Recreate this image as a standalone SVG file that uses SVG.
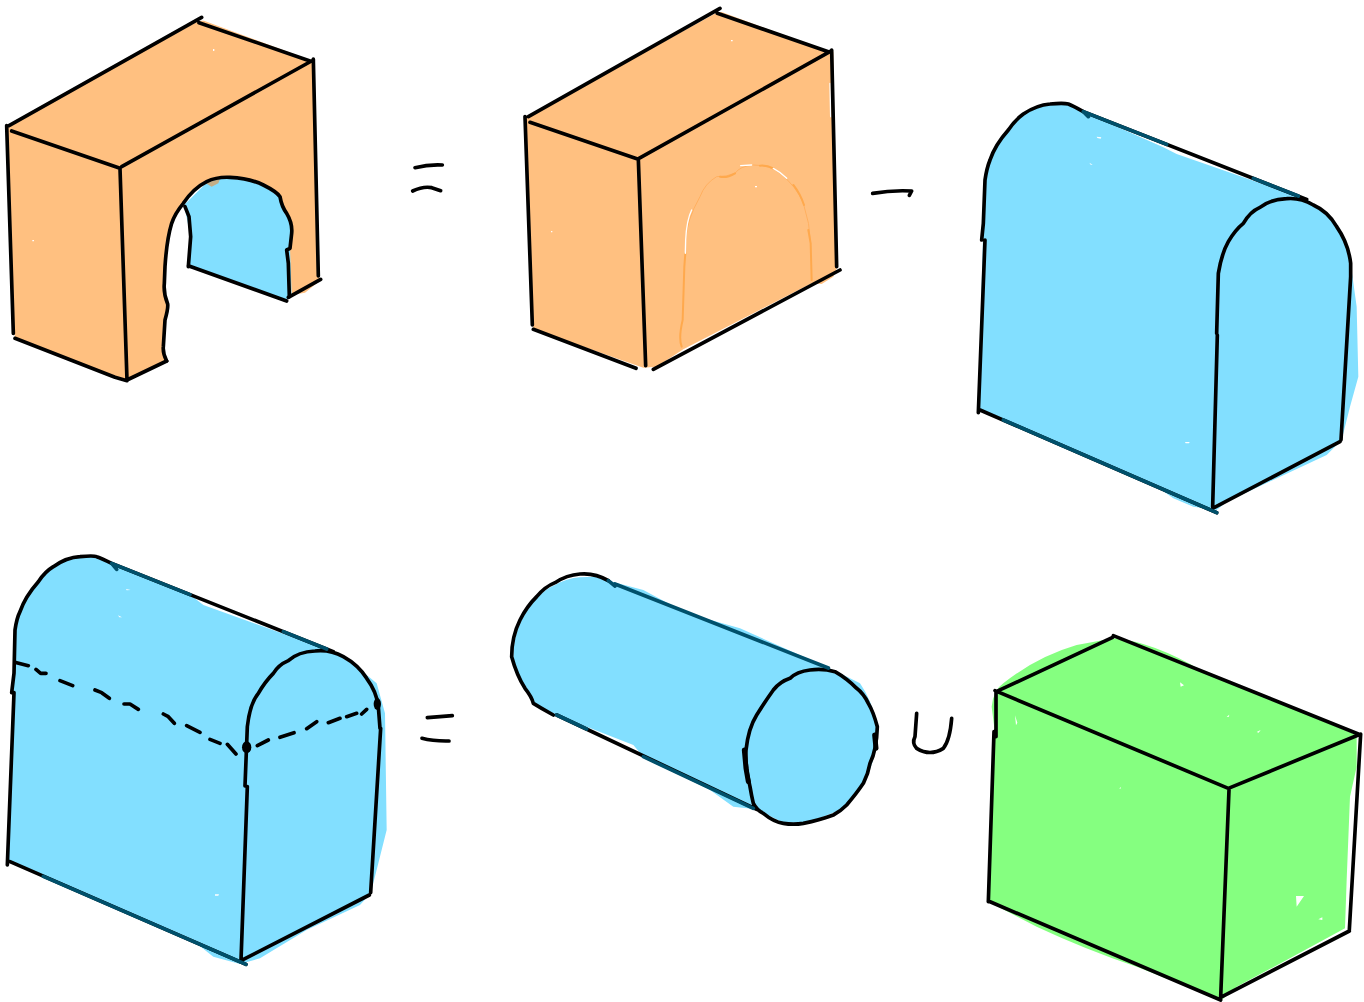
<svg xmlns="http://www.w3.org/2000/svg" width="1364" height="1002" viewBox="0 0 1364 1002">
<style>
.o{fill:#FFC080}.b{fill:#82DFFF}.g{fill:#85FF80}
.s{fill:none;stroke:#000;stroke-width:11;stroke-linecap:round;stroke-linejoin:round}
.t{fill:none;stroke:#00506B;stroke-width:11;stroke-linecap:round;stroke-linejoin:round}
.a{fill:none;stroke:#FFA94D;stroke-width:6;stroke-linecap:round;stroke-linejoin:round}
.c{fill:none;stroke:#FFB060;stroke-width:3;stroke-linecap:round;stroke-linejoin:round}
.h{fill:none;stroke:#fff;stroke-width:4;stroke-linecap:round;stroke-linejoin:round}
.w{fill:#fff}.d{fill:#000}
</style>
<rect width="1364" height="1002" fill="#fff"/>

<g id="arch" transform="scale(.33333)">
<path class="b" d="M552,615L620,548L660,535L740,540L790,558L840,592L872,660L880,745L880,880L860,900L565,797L572,710Z"/>
<path class="o" d="M22,378L597,62L612,62L930,180L945,177L945,400L955,830L965,838L915,878L875,885L870,745L875,700Q878,670 860,640Q845,620 840,590Q830,575 790,555Q750,535 690,532Q650,530 620,545Q580,565 550,610Q525,640 515,670Q500,720 495,800L493,850Q490,880 503,912Q505,925 495,960L490,1040Q488,1060 500,1083L385,1140L345,1132L45,1015L35,900Z"/>
<path style="fill:#C4AE86" d="M615,548L660,537L655,550L635,560Z"/>
<path class="s" d="M27,377L605,52M597,68L930,183M940,177L955,828M365,500L940,180M35,393L360,505M360,505L381,1140M20,377L40,1000M45,1015L345,1132L381,1142M381,1140L500,1083"/>
<path class="s" d="M500,1083Q488,1060 490,1040L495,960Q505,925 503,912Q490,880 493,850L495,800Q500,720 515,670Q525,640 550,610Q580,565 620,545Q650,530 690,532Q750,535 790,555Q830,575 840,590Q845,620 860,640Q878,670 875,700L870,745L860,750L865,790L868,890"/>
<path class="s" d="M555,620L567,650L572,710L565,800M565,797L860,903M865,892L962,838"/>
<path class="s" d="M1245,503Q1285,493 1327,495M1238,573Q1270,558 1295,563L1322,572"/>
<path class="w" d="M639,147h4v6h-4zM97,720h5v4h-5z"/>
</g>

<g id="box-orange" transform="translate(500,0) scale(.33333)">
<path class="o" d="M78,352L650,38L665,36L985,155L1000,155L1005,500L1010,805L1000,830L965,852L935,850L550,1048L470,1100L430,1103L100,988L90,800Z"/>
<path class="c" d="M557,720Q560,660 600,590Q615,550 650,530Q680,530 705,520Q720,498 760,495Q810,495 840,520Q890,560 910,610Q930,670 932,730"/>
<path class="a" d="M545,1040Q535,1015 548,960L553,800L556,760M925,690L932,730L935,840M660,530Q680,535 705,520M780,497Q800,495 820,505M880,555Q900,580 912,615"/>
<path class="h" d="M556,760L557,720Q560,660 575,630M722,497L755,495M820,505Q840,515 860,535M990,250L992,350"/>
<path class="s" d="M85,350L660,25M652,40L985,155M995,150L1010,800M417,475L995,152M90,367L415,478M415,478L437,1097M75,350L97,975M100,988L408,1105M460,1108L1020,810"/>
<path class="s" d="M1118,580Q1175,570 1235,573L1228,586"/>
<path class="w" d="M693,120h5v4h-5zM765,558h6v4h-6zM153,693h4v4h-4z"/>
</g>

<g id="mailbox" transform="translate(960,90) scale(.33333)">
<path class="b" d="M70,400L75,270Q80,235 90,210Q105,165 145,120Q165,90 190,72Q230,45 270,42Q310,38 325,42L370,65L610,172L650,192L1040,328L1105,372L1165,470L1190,650L1195,860L1170,950L1145,1050L1100,1095L800,1235L770,1260L700,1250L640,1225L590,1190L60,960L55,960Z"/>
<path class="s" d="M65,450L70,400L75,270Q80,235 90,210Q105,165 145,120Q165,90 190,72Q230,45 270,42Q310,38 325,42Q340,48 370,65M370,65L1040,328M770,730L775,550Q785,490 805,455Q825,420 850,400Q870,365 900,352Q930,328 980,326Q1020,322 1060,345Q1105,365 1130,410Q1165,460 1172,520L1172,560M1172,560L1143,1050M75,450L55,968M60,960L770,1268M772,735L758,1250M758,1255L1140,1055"/>
<path class="t" d="M370,65L385,80M370,65L620,163M880,265L1015,318M130,990L770,1268"/>
<path class="w" d="M410,140l14,2l-2,4l-10,-2zM388,218l10,6l-6,0zM675,1056h14l-2,4h-10z"/>
</g>

<g id="mailbox-split" transform="translate(0,540) scale(.33333)">
<path class="b" d="M42,400L45,270Q50,235 60,215Q75,170 115,125Q135,95 160,80Q200,52 240,50Q280,46 290,50L335,70L580,172L610,195L1000,335L1070,380L1130,430L1155,520L1160,870L1135,970L1112,1060L1080,1095L920,1170L780,1255L720,1272L640,1250L570,1195L30,965L22,950Z"/>
<path class="s" d="M35,458L42,400L45,270Q50,235 60,215Q75,170 115,125Q135,95 160,80Q200,52 240,50Q280,46 290,50Q305,55 335,70M335,70L1000,335M735,738L742,560Q750,490 775,460Q795,425 820,400Q835,375 865,362Q895,335 945,333Q990,328 1030,350Q1075,375 1100,415Q1130,455 1135,500L1140,565M1142,565L1112,1058M42,458L22,975M30,965L738,1273M742,740L723,1262M723,1262L1108,1065"/>
<path class="t" d="M335,70L350,88M335,70L570,164M850,275L980,327M130,1009L738,1273"/>
<path class="s" d="M50,368L85,377M108,388L122,400L138,400M180,422L218,437M285,450L305,458L328,475M372,492L390,492L415,508M490,522L505,530L523,550M560,557L600,577M630,598L660,610M682,613L708,642M772,617L805,600M840,592L882,578M920,566L950,545M985,548L1020,535M1040,530L1070,520M1085,522L1100,508"/>
<ellipse class="d" cx="740" cy="622" rx="14" ry="18"/>
<ellipse class="d" cx="1132" cy="492" rx="11" ry="18"/>
<path class="s" d="M1282,533L1320,530L1357,527M1266,595Q1300,604 1347,603"/>
<path class="w" d="M378,147l14,3l-12,1zM354,226l12,6l-8,0zM645,1063h12l-2,4h-10z"/>
</g>

<g id="cylinder" transform="translate(500,560) scale(.33333)">
<path class="b" d="M40,290Q40,230 65,180Q85,140 115,110Q140,85 165,75Q200,55 240,52L285,50L325,62L430,90L560,160L720,205L1005,332L1080,370Q1115,420 1135,500Q1135,570 1105,640Q1085,690 1040,735Q1000,765 910,788L850,788L770,748L700,740L630,690L430,590L400,555L170,465L100,430L75,385Q50,340 40,290Z"/>
<path class="s" d="M35,290Q35,230 60,180Q80,140 110,110Q135,80 165,68Q200,45 240,42Q285,38 325,62M35,290Q50,345 75,385Q95,410 100,430L125,445L160,465M170,465L770,748M1005,335Q970,325 930,330Q890,335 870,355Q840,365 820,390Q795,425 770,465Q745,505 738,570Q735,620 750,680Q755,710 760,730Q770,750 790,760Q820,785 850,790Q880,795 910,790Q960,780 1000,765Q1020,755 1040,735Q1070,700 1090,670Q1105,640 1110,610Q1130,570 1132,500Q1120,455 1105,430Q1090,400 1070,385Q1040,355 1005,335Z"/>
<path class="t" d="M325,62L345,78M345,72L985,324M170,465L260,507M430,590L760,745"/>
<path class="s" style="stroke-width:15" d="M733,570L738,625L745,665M1124,525L1128,565"/>
<path class="s" d="M1250,460L1245,530Q1235,550 1250,565Q1290,590 1330,565Q1350,540 1355,475"/>
</g>

<g id="box-green" transform="translate(970,620) scale(.33333)">
<path class="g" d="M430,55Q550,65 700,155L1160,345L1160,440L1140,530L1130,780L1125,925L950,1020L800,1100L755,1140L500,1040Q350,990 200,920L55,845L62,600L75,340L65,260Q70,210 100,190Q200,110 320,75Z"/>
<path class="s" d="M85,212L428,52M430,47L1165,342M1165,345L775,505M75,212L775,505M78,215L78,350M72,335L55,845M55,843L752,1140M777,510L752,1132M752,1132L1138,933M1172,342L1138,930"/>
<path class="w" d="M135,286l7,22l-4,8zM630,187l12,9l-10,4zM770,290l8,-6l-2,7zM860,336l12,-6l-6,8zM978,828h24l-22,32zM1045,898l12,-6v8zM448,505l5,-4l-2,6z"/>
</g>
</svg>
